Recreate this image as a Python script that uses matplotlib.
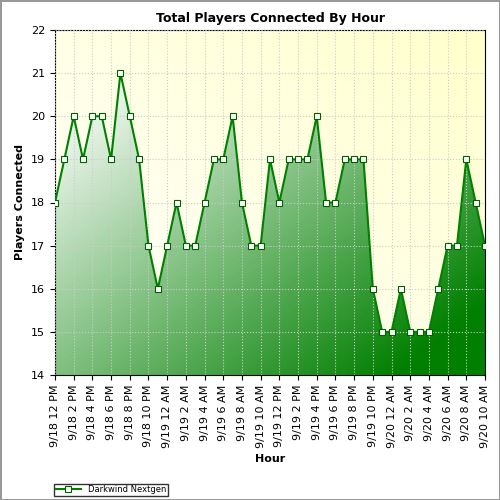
import matplotlib
matplotlib.use("Agg")
import matplotlib.pyplot as plt
import numpy as np
from matplotlib.patches import Polygon

players = [18, 19, 20, 19, 20, 20, 19, 21, 20, 19, 17, 16, 17, 18, 17, 17,
           18, 19, 19, 20, 18, 17, 17, 19, 18, 19, 19, 19, 20, 18, 18, 19,
           19, 19, 16, 15, 15, 16, 15, 15, 15, 16, 17, 17, 19, 18, 17]
tick_labels = ["9/18 12 PM", "9/18 2 PM", "9/18 4 PM", "9/18 6 PM", "9/18 8 PM",
               "9/18 10 PM", "9/19 12 AM", "9/19 2 AM", "9/19 4 AM", "9/19 6 AM",
               "9/19 8 AM", "9/19 10 AM", "9/19 12 PM", "9/19 2 PM", "9/19 4 PM",
               "9/19 6 PM", "9/19 8 PM", "9/19 10 PM", "9/20 12 AM", "9/20 2 AM",
               "9/20 4 AM", "9/20 6 AM", "9/20 8 AM", "9/20 10 AM"]

x = np.arange(len(players))
fig = plt.figure(figsize=(5, 5), dpi=100)
ax = fig.add_axes([0.11, 0.25, 0.86, 0.69])
xmax = len(players) - 1
ax.set_xlim(0, xmax)
ax.set_ylim(14, 22)

# background gradient: white lower-left to pale yellow upper-right
gx, gy = np.meshgrid(np.linspace(0, 1, 100), np.linspace(0, 1, 100))
t = np.clip((gx + gy) / 2, 0, 1)
bg = np.dstack([np.ones_like(t), np.ones_like(t), 1 - 0.2 * t])
ax.imshow(bg, extent=[0, xmax, 14, 22], origin="lower", aspect="auto", zorder=0)

# area gradient: white upper-left to green lower-right
s = np.clip((gx + (1 - gy)) / 2, 0, 1)
s = np.clip((s - 0.1) / 0.8, 0, 1)
white = np.array([1.0, 1.0, 1.0])
green = np.array([0.0, 0.5, 0.0])
area = white[None, None, :] * (1 - s[..., None]) + green[None, None, :] * s[..., None]
im = ax.imshow(area, extent=[0, xmax, 14, 22], origin="lower", aspect="auto", zorder=1)
poly = Polygon(np.column_stack([np.r_[0, x, xmax], np.r_[14, players, 14]]),
               closed=True, transform=ax.transData, facecolor="none", edgecolor="none")
ax.add_patch(poly)
im.set_clip_path(poly)

ax.plot(x, players, color="#008000", lw=1.5, marker="s", ms=5,
        mfc="white", mec="#006000", mew=0.8, zorder=3, label="Darkwind Nextgen")

ax.set_xticks(x[::2])
ax.set_xticklabels(tick_labels, rotation=90, fontsize=8)
ax.set_yticks(range(14, 23))
ax.tick_params(labelsize=8)
ax.grid(True, color="#cccccc", ls=":", lw=0.8, zorder=2)
ax.set_axisbelow(False)
ax.set_title("Total Players Connected By Hour", fontsize=9, fontweight="bold")
ax.set_xlabel("Hour", fontsize=8, fontweight="bold")
ax.set_ylabel("Players Connected", fontsize=8, fontweight="bold")

fig.legend(loc="lower left", bbox_to_anchor=(0.1, 0.0), fontsize=6, fancybox=False,
           edgecolor="black", borderpad=0.2, handlelength=3)
fig.patch.set_edgecolor("#999999")
fig.patch.set_linewidth(1)
fig.savefig("out.png", dpi=100)
